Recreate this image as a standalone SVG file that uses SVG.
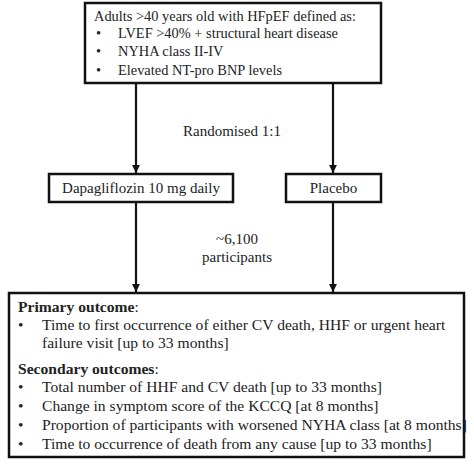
<svg xmlns="http://www.w3.org/2000/svg" width="474" height="471" viewBox="0 0 474 471">
<style>
text{font-family:"Liberation Serif","Times New Roman",serif;font-size:15px;fill:#222}
.top text{font-size:14.4px}
.out text{font-size:15.6px}
.box{fill:#fff;stroke:#111;stroke-width:2.5}
.ln{stroke:#111;stroke-width:2.2;fill:none}
.b{font-weight:bold}
</style>
<defs>
<marker id="ah" viewBox="0 0 10 10" refX="10" refY="5" markerWidth="3.6" markerHeight="3.6" orient="auto" markerUnits="strokeWidth">
<path d="M0,0 L10,5 L0,10 z" fill="#111"/>
</marker>
</defs>
<rect width="474" height="471" fill="#fff"/>
<g id="connectors">
<line class="ln" x1="136" y1="84" x2="136" y2="173" marker-end="url(#ah)"/>
<line class="ln" x1="333" y1="84" x2="333" y2="173" marker-end="url(#ah)"/>
<line class="ln" x1="136" y1="202" x2="136" y2="292" marker-end="url(#ah)"/>
<line class="ln" x1="333" y1="202" x2="333" y2="292" marker-end="url(#ah)"/>
</g>
<g id="eligibility" class="top">
<rect class="box" x="85" y="3" width="296" height="80"/>
<text x="94" y="21">Adults &gt;40 years old with HFpEF defined as:</text>
<text x="96" y="38">•</text><text x="118" y="38">LVEF &gt;40% + structural heart disease</text>
<text x="96" y="56">•</text><text x="118" y="56">NYHA class II-IV</text>
<text x="96" y="75">•</text><text x="118" y="75">Elevated NT-pro BNP levels</text>
</g>
<g id="randomised">
<text x="232" y="136" text-anchor="middle">Randomised 1:1</text>
</g>
<g id="dapagliflozin">
<rect class="box" x="49" y="174" width="184" height="28"/>
<text x="141" y="193" text-anchor="middle">Dapagliflozin 10 mg daily</text>
</g>
<g id="placebo">
<rect class="box" x="286" y="174" width="95" height="28"/>
<text x="333.5" y="193" text-anchor="middle">Placebo</text>
</g>
<g id="participants">
<text x="237" y="244" text-anchor="middle">~6,100</text>
<text x="237" y="262" text-anchor="middle">participants</text>
</g>
<g id="outcomes" class="out">
<rect class="box" x="9" y="293" width="455" height="164"/>
<text x="18" y="312"><tspan class="b">Primary outcome</tspan>:</text>
<text x="18" y="330">•</text><text x="42" y="330">Time to first occurrence of either CV death, HHF or urgent heart</text>
<text x="42" y="348">failure visit [up to 33 months]</text>
<text x="18" y="374"><tspan class="b">Secondary outcomes</tspan>:</text>
<text x="18" y="392">•</text><text x="42" y="392">Total number of HHF and CV death [up to 33 months]</text>
<text x="18" y="411">•</text><text x="42" y="411">Change in symptom score of the KCCQ [at 8 months]</text>
<text x="18" y="430">•</text><text x="42" y="430">Proportion of participants with worsened NYHA class [at 8 months]</text>
<text x="18" y="449">•</text><text x="42" y="449">Time to occurrence of death from any cause [up to 33 months]</text>
</g>
</svg>
